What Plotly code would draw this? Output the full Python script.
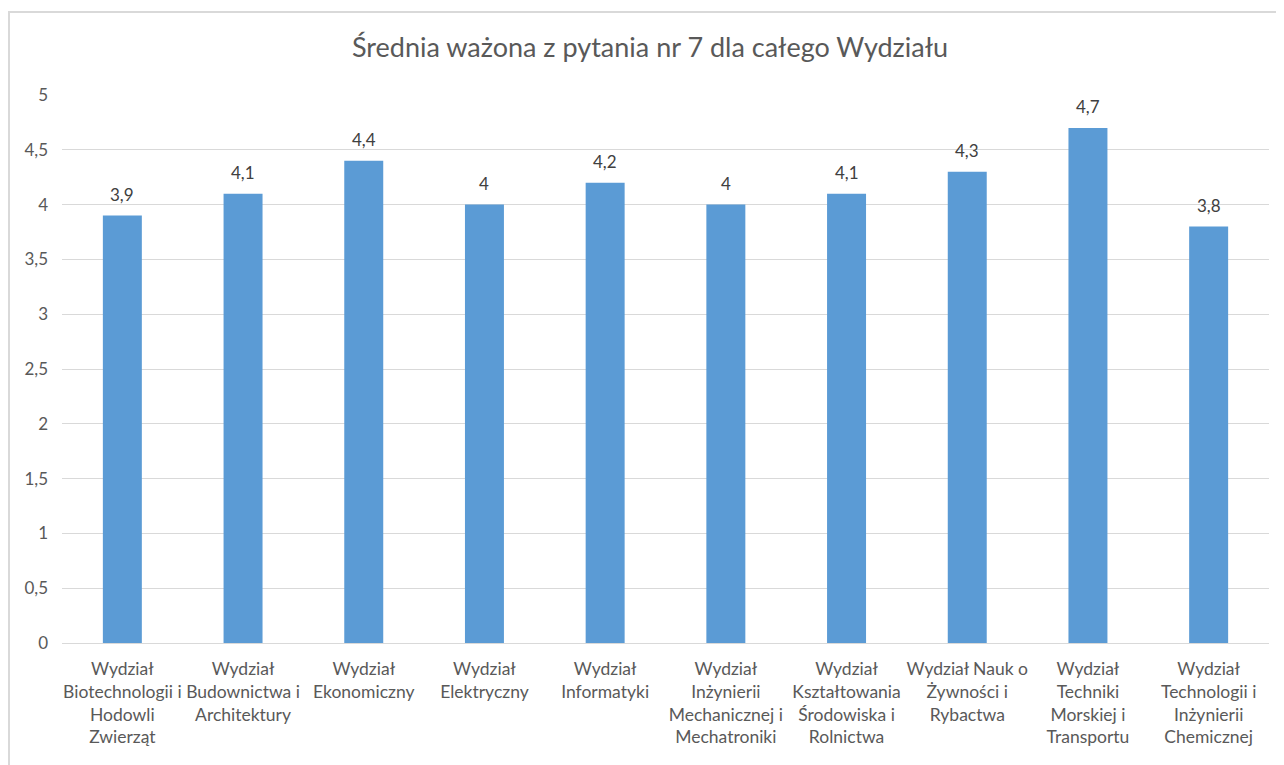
import plotly.graph_objects as go

categories = [
    "Wydział<br>Biotechnologii i<br>Hodowli<br>Zwierząt",
    "Wydział<br>Budownictwa i<br>Architektury",
    "Wydział<br>Ekonomiczny",
    "Wydział<br>Elektryczny",
    "Wydział<br>Informatyki",
    "Wydział<br>Inżynierii<br>Mechanicznej i<br>Mechatroniki",
    "Wydział<br>Kształtowania<br>Środowiska i<br>Rolnictwa",
    "Wydział Nauk o<br>Żywności i<br>Rybactwa",
    "Wydział<br>Techniki<br>Morskiej i<br>Transportu",
    "Wydział<br>Technologii i<br>Inżynierii<br>Chemicznej",
]
values = [3.9, 4.1, 4.4, 4.0, 4.2, 4.0, 4.1, 4.3, 4.7, 3.8]
tick_vals = [0, 0.5, 1, 1.5, 2, 2.5, 3, 3.5, 4, 4.5, 5]
tick_text = ["0", "0,5", "1", "1,5", "2", "2,5", "3", "3,5", "4", "4,5", "5"]

labels = [("%g" % v).replace(".", ",") for v in values]

W, H = 1284, 765
ml, mr, mt, mb = 54, 23, 87, 130
pw = W - ml - mr
ph = H - mt - mb

fig = go.Figure()
fig.add_trace(go.Bar(
    x=list(range(len(categories))),
    y=values,
    marker=dict(color="#5B9BD5", line=dict(width=0)),
    hoverinfo="skip",
))

annotations = [
    dict(x=i, y=v, xref="x", yref="y", text=t, showarrow=False,
         yanchor="bottom", yshift=9,
         font=dict(size=17, color="#404040"))
    for i, (v, t) in enumerate(zip(values, labels))
]

fig.update_layout(
    width=W, height=H,
    margin=dict(l=ml, r=mr, t=mt, b=mb),
    paper_bgcolor="white",
    plot_bgcolor="white",
    font=dict(family="Lato, 'Open Sans', sans-serif", color="#595959"),
    title=dict(
        text="Średnia ważona z pytania nr 7 dla całego Wydziału",
        x=(1284 / 2 - 8 - 4) / W * 0 + 0.5, xanchor="center", y=1 - 40 / H, yanchor="middle",
        font=dict(size=27, color="#595959"),
    ),
    bargap=0.677,
    showlegend=False,
    annotations=annotations,
    xaxis=dict(
        tickmode="array",
        tickvals=list(range(len(categories))),
        ticktext=categories,
        tickfont=dict(size=17.5, color="#595959"),
        showgrid=False,
        showline=True, linecolor="#D9D9D9", linewidth=1,
        ticks="", tickangle=0, automargin=False,
        ticklabelstandoff=10,
        range=[-0.5, len(categories) - 0.5],
    ),
    yaxis=dict(
        range=[0, 5],
        tickmode="array",
        tickvals=tick_vals,
        ticktext=tick_text,
        tickfont=dict(size=17, color="#595959"),
        showgrid=True, gridcolor="#D9D9D9", gridwidth=1,
        zeroline=False, showline=False, automargin=False,
        ticks="", ticklabelstandoff=13,
    ),
    shapes=[dict(
        type="rect", xref="paper", yref="paper",
        x0=(1 - ml) / pw, x1=(W + 5 - ml) / pw,
        y0=(mb - H - 5) / ph, y1=(H - 4 - mb) / ph,
        line=dict(color="#D9D9D9", width=2),
        fillcolor="rgba(0,0,0,0)", layer="below",
    )],
)

fig.write_html("out.html")
